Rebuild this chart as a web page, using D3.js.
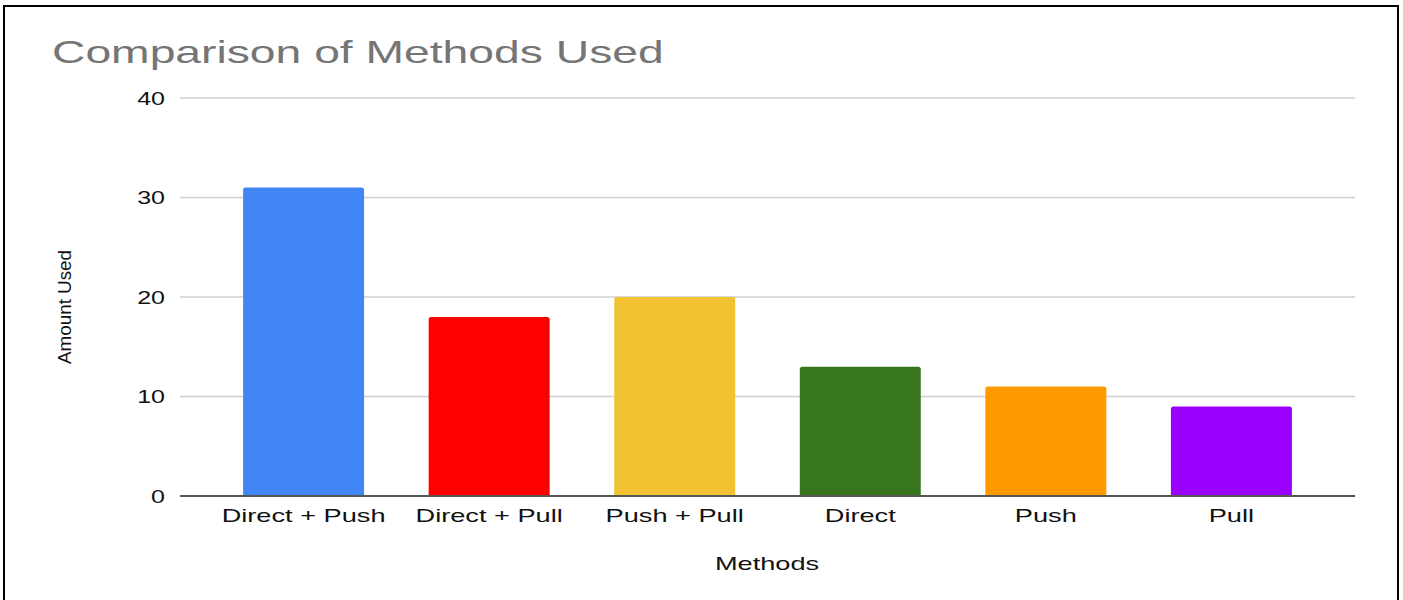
<!DOCTYPE html>
<html>
<head>
<meta charset="utf-8">
<script src="https://cdn.jsdelivr.net/npm/d3@7"></script>
<style>
  body { margin: 0; background: #fff; }
  svg { display: block; font-family: "Liberation Sans", Arial, sans-serif; }
</style>
</head>
<body>
<svg id="chart" width="1403" height="600"></svg>
<script>
// data
var methods = ["Direct + Push", "Direct + Pull", "Push + Pull", "Direct", "Push", "Pull"];
var amounts = [31, 18, 20, 13, 11, 9];
var barColors = ["#4285f4", "#ff0000", "#f1c232", "#38761d", "#ff9900", "#9900ff"];
var yTicks = [0, 10, 20, 30, 40];
var titleText = "Comparison of Methods Used";
var xTitle = "Methods";
var yTitle = "Amount Used";

// the source picture is stretched sideways, so text gets widened too
var stretch = 1.43;

var svg = d3.select("#chart");

// outer frame
svg.append("rect")
  .attr("x", 4).attr("y", 6)
  .attr("width", 1394).attr("height", 610)
  .attr("fill", "#fff")
  .attr("stroke", "#000")
  .attr("stroke-width", 2);

var plotLeft = 180, plotRight = 1355, plotTop = 98, plotBottom = 496;

var x = d3.scaleBand()
  .domain(methods)
  .range([plotLeft, plotRight])
  .paddingInner(0.348)
  .paddingOuter(0.34);

var y = d3.scaleLinear()
  .domain([0, 40])
  .range([plotBottom, plotTop]);

function widen(k) {
  return function(sel) {
    sel.each(function() {
      var w = this.getComputedTextLength();
      d3.select(this)
        .attr("textLength", w * k)
        .attr("lengthAdjust", "spacingAndGlyphs");
    });
  };
}

// gridlines
svg.append("g")
  .selectAll("line")
  .data(yTicks.filter(function(d) { return d > 0; }))
  .enter().append("line")
  .attr("x1", plotLeft).attr("x2", plotRight)
  .attr("y1", function(d) { return y(d); })
  .attr("y2", function(d) { return y(d); })
  .attr("stroke", "#cfcfcf")
  .attr("stroke-width", 1.5);

// y tick labels
svg.append("g")
  .selectAll("text")
  .data(yTicks)
  .enter().append("text")
  .attr("x", 165)
  .attr("y", function(d) { return y(d) + 6.5; })
  .attr("text-anchor", "end")
  .attr("font-size", 17.5)
  .attr("fill", "#111")
  .text(function(d) { return d; })
  .call(widen(stretch));

// bars, small rounded tops
svg.append("g")
  .selectAll("path")
  .data(amounts)
  .enter().append("path")
  .attr("fill", function(d, i) { return barColors[i]; })
  .attr("d", function(d, i) {
    var x0 = x(methods[i]), w = x.bandwidth(), y0 = y(d), r = 2.5;
    return "M" + x0 + "," + plotBottom +
      "V" + (y0 + r) +
      "Q" + x0 + "," + y0 + " " + (x0 + r) + "," + y0 +
      "H" + (x0 + w - r) +
      "Q" + (x0 + w) + "," + y0 + " " + (x0 + w) + "," + (y0 + r) +
      "V" + plotBottom + "Z";
  });

// baseline
svg.append("line")
  .attr("x1", plotLeft).attr("x2", plotRight)
  .attr("y1", y(0)).attr("y2", y(0))
  .attr("stroke", "#555")
  .attr("stroke-width", 2);

// x labels
svg.append("g")
  .selectAll("text")
  .data(methods)
  .enter().append("text")
  .attr("x", function(d) { return x(d) + x.bandwidth() / 2; })
  .attr("y", 522)
  .attr("text-anchor", "middle")
  .attr("font-size", 19)
  .attr("fill", "#111")
  .text(function(d) { return d; })
  .call(widen(stretch));

// title
svg.append("text")
  .attr("x", 52)
  .attr("y", 63)
  .attr("font-size", 32)
  .attr("fill", "#757575")
  .text(titleText)
  .call(widen(1.445));

// axis titles
svg.append("text")
  .attr("x", 767)
  .attr("y", 570)
  .attr("text-anchor", "middle")
  .attr("font-size", 19)
  .attr("fill", "#111")
  .text(xTitle)
  .call(widen(stretch));

svg.append("text")
  .attr("transform", "translate(71,307) rotate(-90)")
  .attr("text-anchor", "middle")
  .attr("font-size", 18.5)
  .attr("fill", "#111")
  .attr("textLength", 114)
  .attr("lengthAdjust", "spacingAndGlyphs")
  .text(yTitle);
</script>
</body>
</html>
